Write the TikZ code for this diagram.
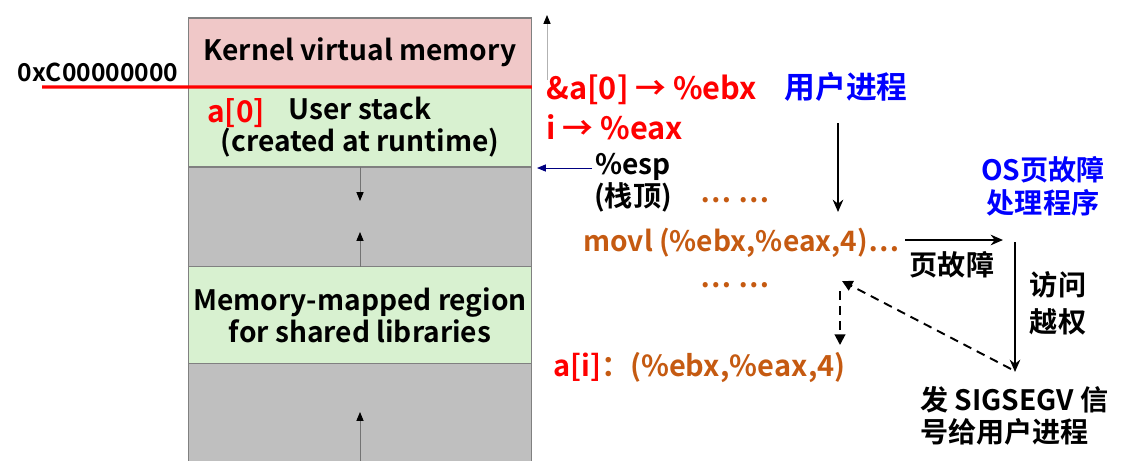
\documentclass[tikz,border=0pt]{standalone}
\usepackage{fontspec}
\setmainfont{Noto Sans CJK SC}[BoldFont={Noto Sans CJK SC Bold}]
\usepackage{tikz}
\usetikzlibrary{arrows.meta,positioning}
\definecolor{kernpink}{RGB}{240,200,200}
\definecolor{stackgreen}{RGB}{216,241,208}
\definecolor{gapgray}{RGB}{191,191,191}
\definecolor{edgegray}{RGB}{128,128,128}
\definecolor{codered}{RGB}{255,0,0}
\definecolor{codeorange}{RGB}{197,90,17}
\definecolor{osblue}{RGB}{0,0,255}
\definecolor{espnavy}{RGB}{0,0,128}
\tikzstyle{memblk}=[rectangle,draw=edgegray,line width=0.6pt,minimum width=6.88cm,
                   inner sep=0pt,outer sep=0pt,align=center,font=\bfseries\fontsize{16}{18.5}\selectfont]
\tikzstyle{lbl}=[inner sep=0pt,font=\bfseries\fontsize{16}{18}\selectfont]
\tikzstyle{growarr}=[-{Triangle[length=5pt,width=4pt,black]},draw=black!55,line width=0.5pt]
\tikzstyle{flow}=[-{Stealth[length=7pt,width=6pt]},line width=1.4pt]
\tikzstyle{backflow}=[-{Triangle[length=6pt,width=6pt]},dash pattern=on 5pt off 3.5pt,line width=1.1pt]

\begin{document}
\begin{tikzpicture}[x=0.02cm,y=-0.02cm]
  \useasboundingbox (0,0) rectangle (1146,460);
  % memory layout column
  \node[memblk,fill=kernpink,minimum height=1.38cm] (kern) at (360,52.5) {Kernel virtual memory};
  \node[memblk,fill=stackgreen,minimum height=1.6cm,below=0pt of kern] (ustack) {User stack\\(created at runtime)};
  \node[memblk,fill=gapgray,minimum height=2cm,below=0pt of ustack] (gapa) {};
  \node[memblk,fill=stackgreen,minimum height=1.94cm,below=0pt of gapa] (mmap) {Memory-mapped region\\for shared libraries};
  \node[memblk,fill=gapgray,minimum height=2cm,below=0pt of mmap] (gapb) {};

  \node[lbl,font=\bfseries\fontsize{14}{16}\selectfont] (kbase) at (98,72) {0xC00000000};
  \coordinate (kline) at (42,87);
  \draw[codered,line width=1.8pt] (kline) -- (kern.south east);
  \node[lbl,codered,font=\bfseries\fontsize{17}{20}\selectfont] (azero) at (236,113) {a[0]};

  \coordinate (stackend) at (360,201);
  \coordinate (heapend) at (360,232);
  \coordinate (mmapend) at (360,412);
  \draw[growarr] (gapa.north) -- (stackend);
  \draw[growarr] (mmap.north) -- (heapend);
  \draw[growarr] (gapb.south) -- (mmapend);

  \coordinate (vbot) at (547,80);
  \coordinate (vtop) at (547,15);
  \draw[growarr,draw=black!30] (vbot) -- (vtop);

  % registers and code
  \node[lbl,codered,anchor=west,font=\bfseries\fontsize{17.5}{20}\selectfont] (ebx) at (546,90) {\&a[0] → \%ebx};
  \node[lbl,codered,anchor=west,font=\bfseries\fontsize{17.5}{20}\selectfont] (eax) at (546,127) {i → \%eax};
  \node[lbl,align=center,font=\bfseries\fontsize{16}{17}\selectfont] (esp) at (633,183) {\%esp\\(栈顶)};
  \coordinate (espfrom) at (592,168);
  \coordinate (espto) at (537,168);
  \draw[-{Triangle[length=5pt,width=4pt]},espnavy,line width=0.5pt] (espfrom) -- (espto);

  \node[lbl,codeorange] (dotsa) at (735,200) {… …};
  \node[lbl,codeorange,anchor=west] (movl) at (583,243) {movl (\%ebx,\%eax,4)…};
  \node[lbl,codeorange] (dotsb) at (735,285) {… …};
  \node[lbl,anchor=west,font=\bfseries\fontsize{16.5}{18}\selectfont] (ai) at (553,368) {\textcolor{codered}{a[i]}\textcolor{codeorange}{：(\%ebx,\%eax,4)}};

  % user process / OS handler
  \node[lbl,osblue,font=\bfseries\fontsize{17.5}{20}\selectfont] (uproc) at (846,87) {用户进程};
  \node[lbl,osblue,align=center,font=\bfseries\fontsize{16}{19}\selectfont] (oshdl) at (1043,186) {OS页故障\\处理程序};
  \coordinate (runa) at (838,123);
  \coordinate (runb) at (838,212);
  \draw[flow] (runa) -- (runb);

  \coordinate (pfa) at (905,240);
  \coordinate (pfb) at (1003,240);
  \draw[flow] (pfa) -- (pfb);
  \node[lbl] (pflbl) at (952,265) {页故障};

  \coordinate (acca) at (1015,242);
  \coordinate (accb) at (1015,372);
  \draw[flow] (acca) -- (accb);
  \node[lbl,align=center,font=\bfseries\fontsize{16}{21}\selectfont] (acclbl) at (1058,303) {访问\\越权};

  \node[lbl,anchor=west,align=left,font=\bfseries\fontsize{16}{18}\selectfont] (sig) at (920,416) {发 SIGSEGV 信\\号给用户进程};

  \coordinate (sigfrom) at (1011,369);
  \coordinate (backto) at (842,281);
  \draw[backflow] (sigfrom) -- (backto);
  \coordinate (retra) at (840,291);
  \coordinate (retrb) at (840,345);
  \draw[backflow] (retra) -- (retrb);
\end{tikzpicture}
\end{document}
